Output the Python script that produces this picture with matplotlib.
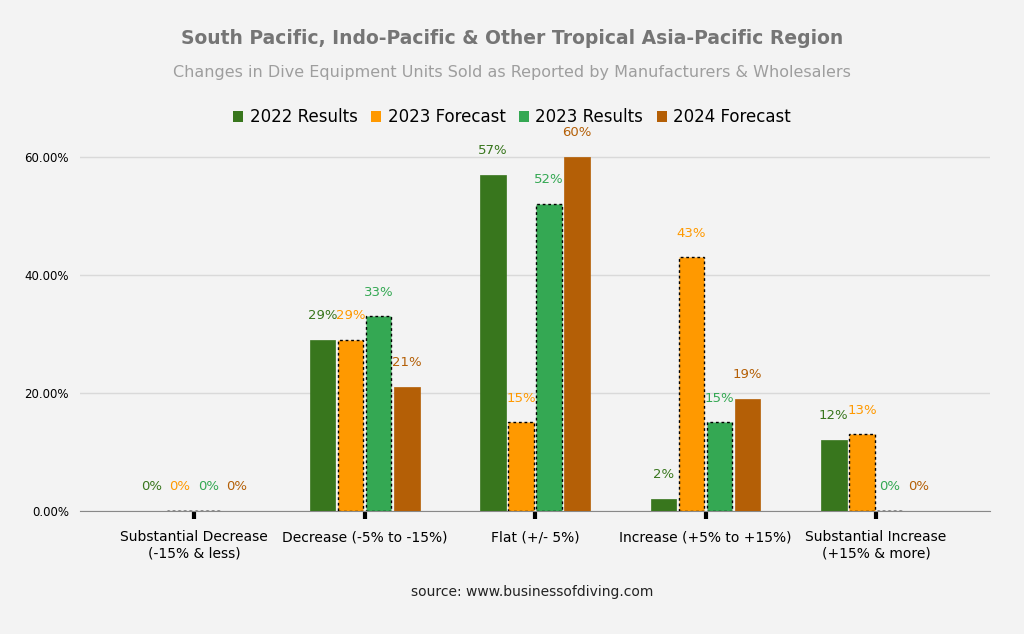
import numpy as np
import matplotlib.pyplot as plt
from matplotlib.patches import Patch
from matplotlib.ticker import FuncFormatter

categories = ["Substantial Decrease\n(-15% & less)", "Decrease (-5% to -15%)", "Flat (+/- 5%)",
              "Increase (+5% to +15%)", "Substantial Increase\n(+15% & more)"]
series_names = ["2022 Results", "2023 Forecast", "2023 Results", "2024 Forecast"]
r2022 = [0, 29, 57, 2, 12]
f2023 = [0, 29, 15, 43, 13]
r2023 = [0, 33, 52, 15, 0]
f2024 = [0, 21, 60, 19, 0]
values = [r2022, f2023, r2023, f2024]
colors = ["#38761d", "#ff9900", "#34a853", "#b45f06"]
dotted = [False, True, True, False]

bg = "#f3f3f3"
fig = plt.figure(figsize=(10.24, 6.34), dpi=100, facecolor=bg)
ax = fig.add_axes([0.078, 0.194, 0.889, 0.605], facecolor=bg)

x = np.arange(len(categories))
pitch = 0.165
w = 0.15
handles = []
for i, (vals, c) in enumerate(zip(values, colors)):
    pos = x + (i - 1.5) * pitch
    if dotted[i]:
        ax.bar(pos, vals, w, color=c, edgecolor="black", linewidth=1, linestyle=(0, (2, 2)), zorder=3)
    else:
        ax.bar(pos, vals, w, color=c, edgecolor=c, linewidth=0.5, zorder=3)
    for p, v in zip(pos, vals):
        ax.text(p, v + 3, f"{v}%", ha="center", va="bottom", color=c, fontsize=9.5)
    handles.append(Patch(facecolor=c, label=series_names[i]))

ax.set_xlim(-0.67, 4.67)
ax.set_ylim(0, 65)
ax.set_yticks([0, 20, 40, 60])
ax.yaxis.set_major_formatter(FuncFormatter(lambda v, _: f"{v:.2f}%"))
ax.grid(axis="y", color="#d9d9d9", linewidth=1, zorder=0)
ax.set_xticks(x)
ax.set_xticklabels(categories, fontsize=10)
ax.tick_params(axis="x", length=6, width=3, color="black", pad=8)
ax.tick_params(axis="y", length=0, labelsize=8.5, pad=8)
for s in ["top", "right", "left"]:
    ax.spines[s].set_visible(False)
ax.spines["bottom"].set_color("#888888")

fig.text(0.5, 0.93, "South Pacific, Indo-Pacific & Other Tropical Asia-Pacific Region",
         ha="center", fontsize=13.5, fontweight="bold", color="#757575")
fig.text(0.5, 0.878, "Changes in Dive Equipment Units Sold as Reported by Manufacturers & Wholesalers",
         ha="center", fontsize=11.5, color="#9e9e9e")
fig.legend(handles=handles, loc="center", bbox_to_anchor=(0.5, 0.815), ncol=4, frameon=False,
           fontsize=12, handlelength=0.6, handleheight=0.6, handletextpad=0.4, columnspacing=0.8)
fig.text(0.52, 0.06, "source: www.businessofdiving.com", ha="center", fontsize=10, color="#222222")

fig.savefig("out.png", dpi=100, facecolor=bg)
